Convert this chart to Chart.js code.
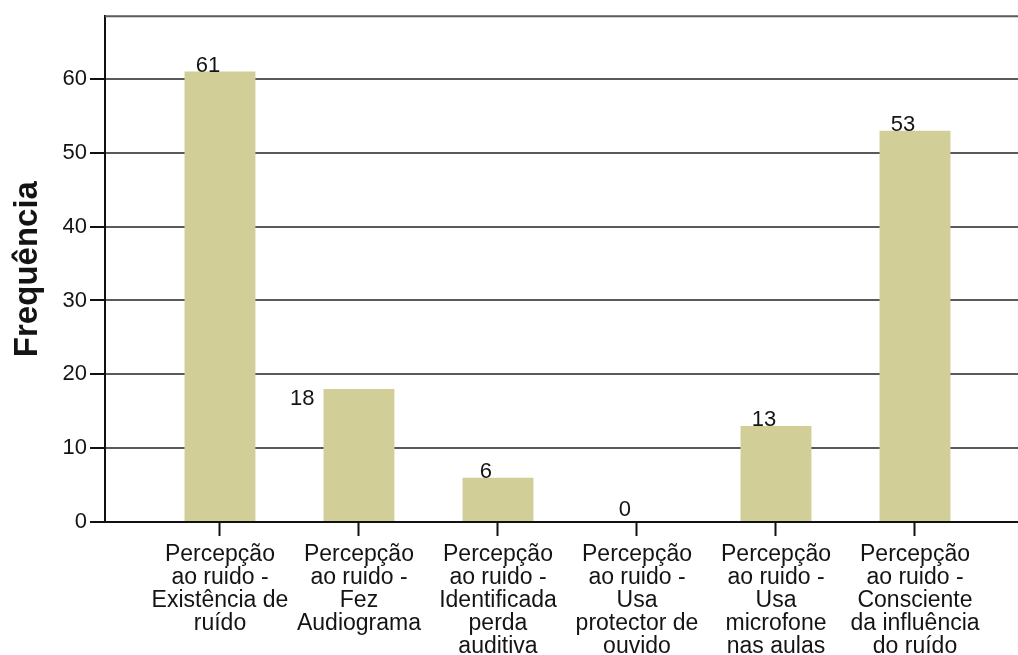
<!DOCTYPE html>
<html>
<head>
<meta charset="utf-8">
<script src="https://cdn.jsdelivr.net/npm/chart.js@4/dist/chart.umd.min.js"></script>
<style>
  html, body { margin: 0; padding: 0; background: #ffffff; }
  #wrap { width: 1018px; height: 655px; }
</style>
</head>
<body>
<div id="wrap"><canvas id="chart" width="1018" height="655"></canvas></div>
<script>
// Categories (one label per bar, split into display lines)
const categories = [
  ['Percepção', 'ao ruido -', 'Existência de', 'ruído'],
  ['Percepção', 'ao ruido -', 'Fez', 'Audiograma'],
  ['Percepção', 'ao ruido -', 'Identificada', 'perda', 'auditiva'],
  ['Percepção', 'ao ruido -', 'Usa', 'protector de', 'ouvido'],
  ['Percepção', 'ao ruido -', 'Usa', 'microfone', 'nas aulas'],
  ['Percepção', 'ao ruido -', 'Consciente', 'da influência', 'do ruído']
];

// Frequency of each answer
const frequencies = [61, 18, 6, 0, 13, 53];

// Y-axis tick values
const yTicks = [0, 10, 20, 30, 40, 50, 60];

const yTitle = 'Frequência';

const FONT = 'Liberation Sans, Arial, Helvetica, sans-serif';
const BAR_COLOR = '#d2ce98';
const GRID_COLOR = '#5a5a5a';
const AXIS_COLOR = '#111111';
const TEXT_COLOR = '#141414';

// Top frame line across the plot area
const frameTop = {
  id: 'frameTop',
  beforeDatasetsDraw(chart) {
    const { ctx, chartArea } = chart;
    ctx.save();
    ctx.strokeStyle = GRID_COLOR;
    ctx.lineWidth = 2;
    ctx.beginPath();
    ctx.moveTo(chartArea.left, chartArea.top);
    ctx.lineTo(chartArea.right, chartArea.top);
    ctx.stroke();
    ctx.restore();
  }
};

// Value labels next to each bar
const labelPlacement = ['top', 'side', 'top', 'top', 'top', 'top'];
const valueLabels = {
  id: 'valueLabels',
  afterDatasetsDraw(chart) {
    const { ctx } = chart;
    const meta = chart.getDatasetMeta(0);
    const ds = chart.data.datasets[0];
    ctx.save();
    ctx.font = '22px ' + FONT;
    ctx.fillStyle = TEXT_COLOR;
    meta.data.forEach((bar, i) => {
      const v = ds.data[i].y;
      const txt = String(v);
      if (labelPlacement[i] === 'side') {
        ctx.textAlign = 'right';
        ctx.textBaseline = 'top';
        ctx.fillText(txt, bar.x - bar.width / 2 - 9, bar.y - 1);
      } else {
        ctx.textAlign = 'center';
        ctx.textBaseline = 'alphabetic';
        const y = v === 0 ? bar.y - 6 : bar.y;
        ctx.fillText(txt, bar.x - 12, y);
      }
    });
    ctx.restore();
  }
};

new Chart(document.getElementById('chart'), {
  type: 'bar',
  data: {
    datasets: [{
      data: frequencies.map((v, i) => ({ x: i, y: v })),
      backgroundColor: BAR_COLOR,
      borderWidth: 0,
      categoryPercentage: 1,
      barPercentage: 0.51
    }]
  },
  options: {
    responsive: false,
    devicePixelRatio: 1,
    animation: false,
    layout: { padding: { top: 14, right: 0, left: 0, bottom: 0 } },
    plugins: {
      legend: { display: false },
      tooltip: { enabled: false }
    },
    scales: {
      x: {
        type: 'linear',
        offset: false,
        min: -0.827,
        max: 5.741,
        afterBuildTicks(scale) {
          scale.ticks = categories.map((_, i) => ({ value: i }));
        },
        afterFit(scale) { scale.height = 133; },
        ticks: {
          autoSkip: false,
          maxRotation: 0,
          minRotation: 0,
          includeBounds: false,
          padding: 7,
          color: TEXT_COLOR,
          font: { family: FONT, size: 23, lineHeight: 1.0 },
          callback: (value) => categories[value] || ''
        },
        grid: {
          offset: false,
          drawOnChartArea: false,
          drawTicks: true,
          tickLength: 14,
          tickColor: AXIS_COLOR,
          tickWidth: 2
        },
        border: { display: true, color: AXIS_COLOR, width: 2 }
      },
      y: {
        min: 0,
        max: 68.5,
        afterBuildTicks(scale) {
          scale.ticks = yTicks.map(v => ({ value: v }));
        },
        afterFit(scale) { scale.width = 105; },
        ticks: {
          includeBounds: false,
          padding: 3,
          color: TEXT_COLOR,
          font: { family: FONT, size: 22 }
        },
        grid: {
          color: GRID_COLOR,
          lineWidth: 2,
          drawTicks: true,
          tickLength: 15,
          tickColor: AXIS_COLOR,
          tickWidth: 2
        },
        border: { display: true, color: AXIS_COLOR, width: 2 },
        title: {
          display: true,
          text: yTitle,
          color: TEXT_COLOR,
          font: { family: FONT, size: 33, weight: 'bold' },
          padding: { top: 8, bottom: 0 }
        }
      }
    }
  },
  plugins: [frameTop, valueLabels]
});
</script>
</body>
</html>
